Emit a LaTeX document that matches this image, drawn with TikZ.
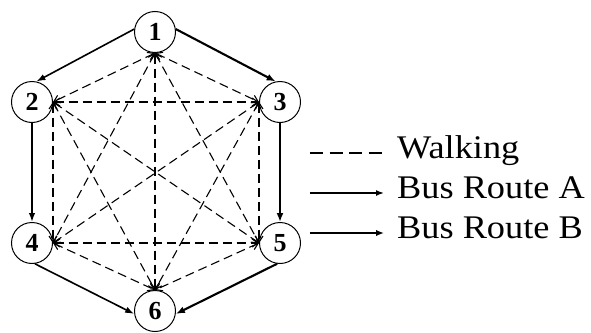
\documentclass[tikz,border=0pt]{standalone}
\usepackage{fontspec}
\setmainfont{Liberation Serif}
\usetikzlibrary{arrows.meta}
\newcommand\widetxt[1]{\scalebox{1.1}[1.0]{#1}}
\begin{document}
\begin{tikzpicture}[x=1pt,y=-1pt,
  stn/.style={circle,draw,line width=1pt,minimum size=41pt,inner sep=0pt,font=\fontsize{26}{28}\selectfont\bfseries},
  walk/.style={dash pattern=on 9pt off 5pt,line width=1.1pt,{Straight Barb[length=6pt,width=8pt]}-{Straight Barb[length=6pt,width=8pt]}},
  busA/.style={line width=1.6pt,-{Latex[length=9pt,width=6.5pt]}},
  busB/.style={line width=2.1pt,-{Latex[length=9pt,width=7pt]}},
  lbl/.style={anchor=base west,inner sep=0pt,font=\fontsize{33}{38}\selectfont}]
\useasboundingbox (0,0) rectangle (591,332);
\node[stn] (n1) at (155,32) {1};
\node[stn] (n2) at (32,102) {2};
\node[stn] (n3) at (280,102) {3};
\node[stn] (n4) at (32,243) {4};
\node[stn] (n5) at (280,243) {5};
\node[stn] (n6) at (155,311) {6};
% walking connections
\foreach \a/\b in {n1.south/n2.east,n1.south/n3.west,n1.south/n4.east,n1.south/n5.west,n1.south/n6.north,
  n2.east/n3.west,n2.east/n4.east,n2.east/n5.west,n2.east/n6.north,
  n3.west/n4.east,n3.west/n5.west,n3.west/n6.north,
  n4.east/n5.west,n4.east/n6.north,n5.west/n6.north}
  \draw[walk] (\a) -- (\b);
% bus routes
\draw[busA] (n1.172) -- (n2.78);
\draw[busA] (n2.south) -- (n4.north);
\draw[busA] (n4.-82) -- (n6.188);
\draw[busB] (n1.8) -- (n3.102);
\draw[busB] (n3.south) -- (n5.north);
\draw[busB] (n5.-98) -- (n6.-8);
% legend
\node[lbl] (tw) at (397,158) {\widetxt{Walking}};
\node[lbl] (ta) at (397,198) {\widetxt{Bus Route A}};
\node[lbl] (tb) at (397,238) {\widetxt{Bus Route B}};
\coordinate (w0) at (310,153); \coordinate (w1) at (382,153);
\coordinate (a0) at (310,193); \coordinate (a1) at (384,193);
\coordinate (b0) at (310,233); \coordinate (b1) at (384,233);
\draw[dash pattern=on 13pt off 6.5pt,line width=1.1pt] (w0) -- (w1);
\draw[line width=1.5pt,-{Latex[length=8pt,width=6pt]}] (a0) -- (a1);
\draw[line width=2pt,-{Latex[length=8pt,width=6.5pt]}] (b0) -- (b1);
\end{tikzpicture}
\end{document}
